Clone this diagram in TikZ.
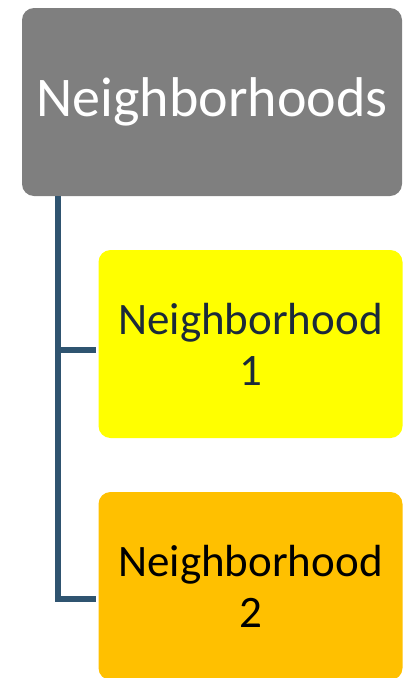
\documentclass[tikz,border=0pt]{standalone}
\usepackage{fontspec}
\setmainfont{Carlito}
\begin{document}
\begin{tikzpicture}[x=1pt,y=-1pt,
  box/.style={rounded corners=12pt, inner sep=0pt, align=center},
  conn/.style={draw=lineblue, line width=6pt}]
\definecolor{boxgray}{HTML}{7F7F7F}
\definecolor{boxyellow}{HTML}{FFFF00}
\definecolor{boxorange}{HTML}{FFC000}
\definecolor{lineblue}{HTML}{2F5470}
\definecolor{textnavy}{HTML}{1B2A3A}
\useasboundingbox (0,0) rectangle (407,678);
\node[box, fill=boxgray, minimum width=380pt, minimum height=188pt, text=white,
  font=\fontsize{56}{60}\selectfont] (root) at (212,102) {Neighborhoods};
\node[box, fill=boxyellow, minimum width=304pt, minimum height=188pt, text=textnavy,
  font=\fontsize{45}{51}\selectfont] (n1) at (250.5,344) {Neighborhood\\1};
\node[box, fill=boxorange, minimum width=304pt, minimum height=188pt, text=black,
  font=\fontsize{45}{51}\selectfont] (n2) at (250.5,586) {Neighborhood\\2};
\coordinate (top) at (58,196);
\coordinate (b1) at (96,350);
\coordinate (b2) at (96,599);
\draw[conn] (top) |- (b1);
\draw[conn] (top) |- (b2);
\end{tikzpicture}
\end{document}
